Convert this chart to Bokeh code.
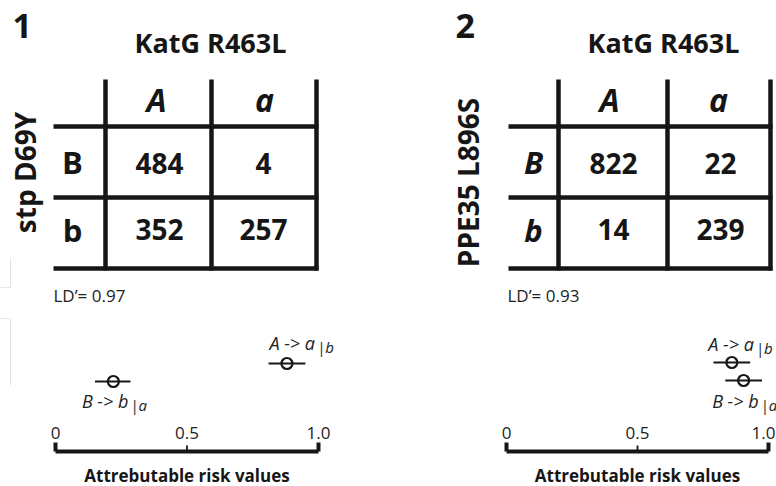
from bokeh.plotting import figure
from bokeh.models import Range1d
from bokeh.core.properties import value
from bokeh.embed import file_html
from bokeh.resources import INLINE
import math

# ---------------- data ----------------
panel_ids = ["1", "2"]
col_gene = ["KatG R463L", "KatG R463L"]
row_gene = ["stp D69Y", "PPE35 L896S"]
col_alleles = ["A", "a"]
row_alleles = ["B", "b"]
counts_1 = [[484, 4], [352, 257]]
counts_2 = [[822, 22], [14, 239]]
ld_prime = [0.97, 0.93]
risk_labels = ["A -> a", "B -> b"]
risk_subs = ["|b", "|a"]
risk_1 = [0.88, 0.22]
risk_1_lo = [0.81, 0.15]
risk_1_hi = [0.95, 0.285]
risk_2 = [0.86, 0.905]
risk_2_lo = [0.79, 0.835]
risk_2_hi = [0.93, 0.975]
axis_ticks = [0, 0.5, 1.0]
axis_tick_labels = ["0", "0.5", "1.0"]
axis_title = "Attrebutable risk values"

# ---------------- layout ----------------
W, H = 776, 486
FONT = value("Open Sans")
INK = "#161616"
BASE_FIX = 0.42  # empirical shift of the rendered alphabetic baseline


def bl(y, fs):
    """target baseline -> anchor y"""
    return y - BASE_FIX * fs


p = figure(width=W, height=H, x_range=Range1d(0, W), y_range=Range1d(H, 0),
           output_backend="svg", toolbar_location=None, min_border=0,
           x_axis_type=None, y_axis_type=None)
p.grid.visible = False
p.outline_line_color = None
p.background_fill_color = "white"
p.border_fill_color = "white"

panels = [
    dict(num_x=12, title_x=210, ylab_x=24, ylab_y=172,
         left=53, vx=[105, 211, 316], hy=[126, 197, 268], top=79,
         head_x=[156, 264], row_x=72, num_cx=[159, 263],
         row_style="bold", ld_x=53,
         origin=55, unit=263, rname="r1", edge=False,
         counts=counts_1, risk=risk_1, lo=risk_1_lo, hi=risk_1_hi,
         ry=[363, 381], lab_off=[28, 15], lab_y=[350, 408]),
    dict(num_x=455, title_x=663, ylab_x=467, ylab_y=182,
         left=508, vx=[558, 667, 770], hy=[126, 197, 268], top=79,
         head_x=[609, 718], row_x=533, num_cx=[613, 720],
         row_style="bold italic", ld_x=507,
         origin=506, unit=262, rname="r2", edge=True,
         counts=counts_2, risk=risk_2, lo=risk_2_lo, hi=risk_2_hi,
         ry=[362, 380], lab_off=[22, 15], lab_y=[351, 408]),
]

p.extra_x_ranges = {
    pn["rname"]: Range1d((0 - pn["origin"]) / pn["unit"], (W - pn["origin"]) / pn["unit"])
    for pn in panels
}

# faint crop artefacts at left edge
p.line([0, 10, 10], [287, 287, 258], line_color="#e4e4e4", line_width=1)
p.line([0, 10, 10], [318, 318, 385], line_color="#e4e4e4", line_width=1)

for i, pn in enumerate(panels):
    # panel number
    p.text(x=[pn["num_x"]], y=[bl(40, 34)], text=[panel_ids[i]], text_font=FONT,
           text_font_size="34px", text_font_style="bold", text_color=INK,
           text_align="left", text_baseline="alphabetic")
    # column gene title
    p.text(x=[pn["title_x"]], y=[bl(53, 27)], text=[col_gene[i]], text_font=FONT,
           text_font_size="27px", text_font_style="bold", text_color=INK,
           text_align="center", text_baseline="alphabetic")
    # row gene label (rotated)
    p.text(x=[pn["ylab_x"]], y=[pn["ylab_y"]], text=[row_gene[i]], text_font=FONT,
           text_font_size="28px", text_font_style="bold", text_color=INK,
           text_align="center", text_baseline="middle", angle=math.pi / 2)
    # table lines
    vx = pn["vx"]
    hy = pn["hy"]
    p.segment(x0=vx, y0=[pn["top"]] * 3, x1=vx, y1=[hy[-1] + 2] * 3,
              line_color=INK, line_width=4.5)
    p.segment(x0=[pn["left"]] * 3, y0=hy, x1=[vx[-1] + 2] * 3, y1=hy,
              line_color=INK, line_width=4.5)
    # column allele headers
    p.text(x=pn["head_x"], y=[bl(112, 32)] * 2, text=col_alleles, text_font=FONT,
           text_font_size="32px", text_font_style="bold italic", text_color=INK,
           text_align="center", text_baseline="alphabetic")
    # row allele labels
    p.text(x=[pn["row_x"]] * 2, y=[bl(175, 31), bl(243, 31)], text=row_alleles, text_font=FONT,
           text_font_size="31px", text_font_style=pn["row_style"], text_color=INK,
           text_align="center", text_baseline="alphabetic")
    # counts
    cx, cy, ct = [], [], []
    for r, row in enumerate(pn["counts"]):
        for c, v in enumerate(row):
            cx.append(pn["num_cx"][c])
            cy.append(bl([175, 241][r], 28))
            ct.append(str(v))
    p.text(x=cx, y=cy, text=ct, text_font=FONT, text_font_size="28px",
           text_font_style="bold", text_color=INK, text_align="center",
           text_baseline="alphabetic")
    # LD'
    p.text(x=[pn["ld_x"]], y=[bl(302, 17)], text=["LD\u2019= %.2f" % ld_prime[i]], text_font=FONT,
           text_font_size="17px", text_color="#222222", text_align="left",
           text_baseline="alphabetic")

    rn = pn["rname"]
    # error bars + points
    p.segment(x0=pn["lo"], y0=pn["ry"], x1=pn["hi"], y1=pn["ry"], x_range_name=rn,
              line_color=INK, line_width=2.2)
    p.scatter(x=pn["risk"], y=pn["ry"], x_range_name=rn, marker="circle", size=11,
              fill_alpha=0, line_color=INK, line_width=2.2)
    # labels
    for k in range(2):
        p.text(x=[pn["risk"][k]], y=[bl(pn["lab_y"][k], 18)], text=[risk_labels[k]],
               x_range_name=rn, x_offset=pn["lab_off"][k], text_font=FONT,
               text_font_size="18px", text_font_style="italic", text_color="#222222",
               text_align="right", text_baseline="alphabetic")
        p.text(x=[pn["risk"][k]], y=[bl(pn["lab_y"][k] + 3, 15)], text=[risk_subs[k]],
               x_range_name=rn, x_offset=pn["lab_off"][k] + 2, text_font=FONT,
               text_font_size="15px", text_font_style="italic", text_color="#222222",
               text_align="left", text_baseline="alphabetic")
    # manual axis
    p.segment(x0=[axis_ticks[0]], y0=[451], x1=[axis_ticks[-1]], y1=[451], x_range_name=rn,
              line_color=INK, line_width=4)
    p.segment(x0=[axis_ticks[0], axis_ticks[-1]], y0=[442, 442],
              x1=[axis_ticks[0], axis_ticks[-1]], y1=[451, 451], x_range_name=rn,
              line_color=INK, line_width=4)
    p.segment(x0=axis_ticks[1:-1], y0=[445] * len(axis_ticks[1:-1]),
              x1=axis_ticks[1:-1], y1=[451] * len(axis_ticks[1:-1]), x_range_name=rn,
              line_color=INK, line_width=1.8)
    n_center = len(axis_ticks) - 1 if pn["edge"] else len(axis_ticks)
    p.text(x=axis_ticks[:n_center], y=[bl(440, 17)] * n_center,
           text=axis_tick_labels[:n_center], x_range_name=rn,
           text_font=FONT, text_font_size="17px", text_color="#222222",
           text_align="center", text_baseline="alphabetic")
    if pn["edge"]:
        # last tick label sits at the picture's right edge: keep it inside
        p.text(x=axis_ticks[-1:], y=[bl(440, 17)], text=axis_tick_labels[-1:],
               x_range_name=rn, x_offset=7,
               text_font=FONT, text_font_size="17px", text_color="#222222",
               text_align="right", text_baseline="alphabetic")
    p.text(x=[axis_ticks[1]], y=[bl(482, 17)], text=[axis_title], x_range_name=rn,
           text_font=FONT, text_font_size="17px", text_font_style="bold", text_color=INK,
           text_align="center", text_baseline="alphabetic")

open("out.html", "w").write(file_html(p, INLINE))
